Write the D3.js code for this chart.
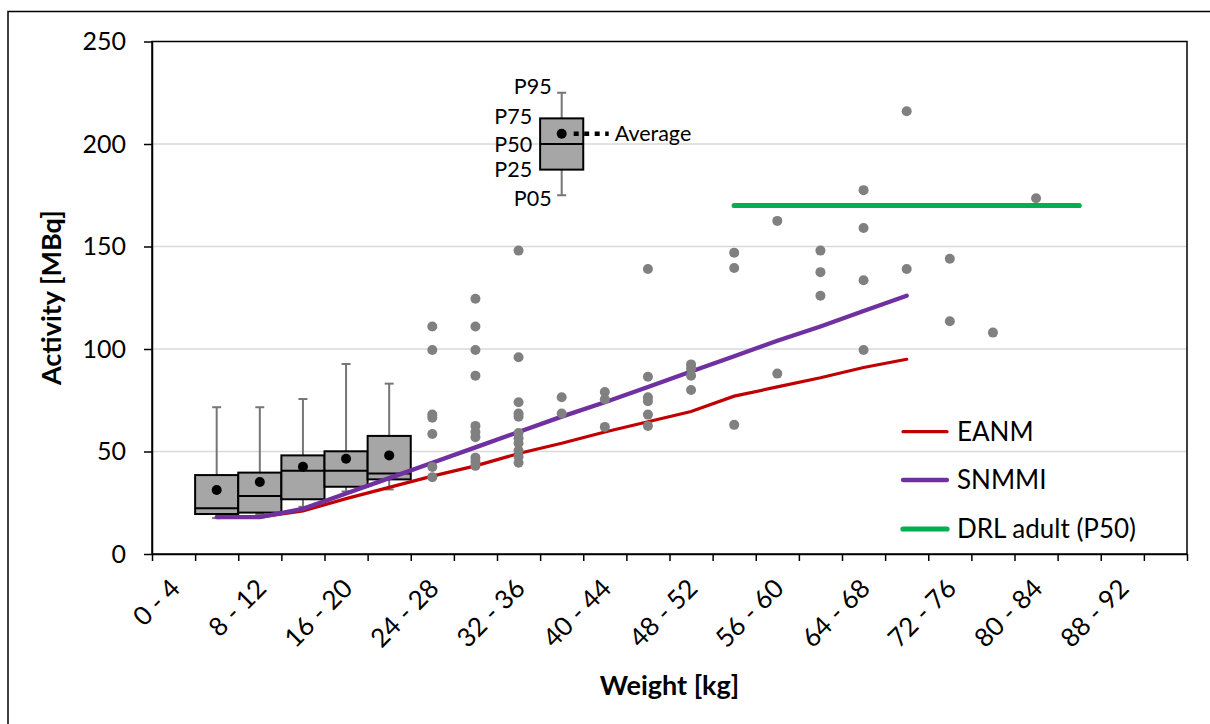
<!DOCTYPE html>
<html><head><meta charset="utf-8">
<script src="https://cdn.jsdelivr.net/npm/d3@7"></script>
<style>
body{margin:0;background:#fff;}
text{font-family:Lato, "Noto Sans", sans-serif;fill:#000;}
</style>
</head><body>
<svg id="chart" width="1210" height="724"></svg>
<script>
// ---------- DATA ----------
const categories = ["0 - 4","4 - 8","8 - 12","12 - 16","16 - 20","20 - 24","24 - 28","28 - 32",
  "32 - 36","36 - 40","40 - 44","44 - 48","48 - 52","52 - 56","56 - 60","60 - 64","64 - 68",
  "68 - 72","72 - 76","76 - 80","80 - 84","84 - 88","88 - 92","92 - 96"];
const tickLabels = ["0 - 4","8 - 12","16 - 20","24 - 28","32 - 36","40 - 44","48 - 52",
  "56 - 60","64 - 68","72 - 76","80 - 84","88 - 92"];
const yTicks = [0, 50, 100, 150, 200, 250];

// box plots (P05, P25, P50, P75, P95, average)
const boxCategories = ["4 - 8","8 - 12","12 - 16","16 - 20","20 - 24"];
const boxP05  = [17.5, 19.5, 23, 30.5, 31.5];
const boxP25  = [19.5, 20.2, 26.7, 32.8, 36.4];
const boxP50  = [22.3, 28.3, 40.6, 40.6, 39.3];
const boxP75  = [38.5, 39.7, 48.1, 50.1, 57.6];
const boxP95  = [71.6, 71.6, 75.6, 92.7, 83.1];
const boxMean = [31.2, 35.1, 42.6, 46.5, 48.1];

// explanatory box (key)
const keyCategory = "36 - 40";
const keyLabels = ["P05","P25","P50","P75","P95"];
const keyValues = [175, 187.5, 200, 212.5, 225];
const keyMean = 205;
const keyMeanLabel = "Average";

// individual patients
const scatterCategories = ["24 - 28","28 - 32","32 - 36","36 - 40","40 - 44","44 - 48","48 - 52",
  "52 - 56","56 - 60","60 - 64","64 - 68","68 - 72","72 - 76","76 - 80","80 - 84"];
const scatterValues = [
  [111, 99.5, 68, 66.5, 58.5, 42.5, 37.5],
  [124.5, 111, 99.5, 87, 62.5, 59.5, 57, 47, 45, 43],
  [148, 96, 74, 68.5, 67, 59, 56.5, 54, 50.5, 47.5, 44.5],
  [76.5, 68.5],
  [79, 75.5, 62],
  [139, 86.5, 76.5, 74.5, 68, 62.5],
  [92.5, 90.5, 87, 80],
  [147, 139.5, 63],
  [162.5, 88],
  [148, 137.5, 126],
  [177.5, 159, 133.5, 99.5],
  [216, 139],
  [144, 113.5],
  [108],
  [173.5]
];

// reference lines
const lineCategories = ["4 - 8","8 - 12","12 - 16","16 - 20","20 - 24","24 - 28","28 - 32",
  "32 - 36","36 - 40","40 - 44","44 - 48","48 - 52","52 - 56","56 - 60","60 - 64","64 - 68","68 - 72"];
const eanmValues  = [18, 18, 21, 27, 32.5, 38, 43, 49, 54, 59.5, 64.5, 69.5, 77, 81.5, 86, 91, 95];
const snmmiValues = [18, 18, 22, 29.5, 37, 44.5, 52, 59.5, 67, 74, 81.5, 89, 96.5, 104, 111, 118.5, 126];
const drlCategories = ["52 - 56","56 - 60","60 - 64","64 - 68","68 - 72","72 - 76","76 - 80","80 - 84","84 - 88"];
const drlValues = [170, 170, 170, 170, 170, 170, 170, 170, 170];

const legendNames = ["EANM", "SNMMI", "DRL adult (P50)"];
const legendColors = ["#c00000", "#7030a0", "#00b050"];
const legendWidths = [3.2, 4.3, 5.2];

// ---------- LAYOUT ----------
const svg = d3.select("#chart");
const L = 152, R = 1187, T = 41.5, B = 554;
const x = d3.scaleBand().domain(categories).range([L, R]).padding(0);
const xEdge = d3.scaleLinear().domain([0, categories.length]).range([L, R]);
const y = d3.scaleLinear().domain([0, 250]).range([B, T]);
const cx = c => x(c) + x.bandwidth() / 2;

// outer frame
svg.append("rect").attr("x", 8).attr("y", 11.5).attr("width", 1400).attr("height", 900)
  .attr("fill", "none").attr("stroke", "#000").attr("stroke-width", 1.5);

// gridlines
svg.append("g").selectAll("line").data(yTicks.filter(v => v > 0 && v < 250)).join("line")
  .attr("x1", L).attr("x2", R).attr("y1", d => y(d)).attr("y2", d => y(d))
  .attr("stroke", "#d9d9d9").attr("stroke-width", 1.5);

// box plots
function drawBox(g, cat, p05, p25, p50, p75, p95, mean) {
  const c = cx(cat), w = x.bandwidth();
  g.append("line").attr("x1", c).attr("x2", c).attr("y1", y(p95)).attr("y2", y(p05))
    .attr("stroke", "#767676").attr("stroke-width", 2);
  [p95, p05].forEach(v => g.append("line").attr("x1", c - 4.5).attr("x2", c + 4.5)
    .attr("y1", y(v)).attr("y2", y(v)).attr("stroke", "#767676").attr("stroke-width", 2));
  g.append("rect").attr("x", x(cat)).attr("width", w).attr("y", y(p75)).attr("height", y(p25) - y(p75))
    .attr("fill", "#a6a6a6").attr("stroke", "#000").attr("stroke-width", 2);
  g.append("line").attr("x1", x(cat)).attr("x2", x(cat) + w).attr("y1", y(p50)).attr("y2", y(p50))
    .attr("stroke", "#000").attr("stroke-width", 2);
  g.append("circle").attr("cx", c).attr("cy", y(mean)).attr("r", 5).attr("fill", "#000");
}
const gBox = svg.append("g");
boxCategories.forEach((c, i) => drawBox(gBox, c, boxP05[i], boxP25[i], boxP50[i], boxP75[i], boxP95[i], boxMean[i]));

// key box
const gKey = svg.append("g");
drawBox(gKey, keyCategory, ...keyValues, keyMean);
const kc = cx(keyCategory);
gKey.append("line").attr("x1", kc + 12).attr("x2", kc + 47).attr("y1", y(keyMean)).attr("y2", y(keyMean))
  .attr("stroke", "#000").attr("stroke-width", 4.5).attr("stroke-dasharray", "5,5.5");
gKey.append("text").attr("x", kc + 53).attr("y", y(keyMean)).attr("dy", "0.36em")
  .attr("font-size", 21.5).text(keyMeanLabel);
keyLabels.forEach((lab, i) => {
  const outer = (i === 0 || i === 4);
  const xEnd = outer ? kc - 10 : x(keyCategory) - 8;
  const off = i === 0 ? 3 : (i === 4 ? -6 : (i === 3 ? -2 : 0));
  gKey.append("text").attr("x", xEnd).attr("y", y(keyValues[i]) + off).attr("dy", "0.36em")
    .attr("text-anchor", "end").attr("font-size", 21.5).text(lab);
});

// reference lines
const line = d3.line().x(d => cx(d[0])).y(d => y(d[1]));
svg.append("path").datum(lineCategories.map((c, i) => [c, eanmValues[i]])).attr("d", line)
  .attr("fill", "none").attr("stroke", legendColors[0]).attr("stroke-width", legendWidths[0]).attr("stroke-linecap", "round");
svg.append("path").datum(lineCategories.map((c, i) => [c, snmmiValues[i]])).attr("d", line)
  .attr("fill", "none").attr("stroke", legendColors[1]).attr("stroke-width", legendWidths[1]).attr("stroke-linecap", "round");
svg.append("path").datum(drlCategories.map((c, i) => [c, drlValues[i]])).attr("d", line)
  .attr("fill", "none").attr("stroke", legendColors[2]).attr("stroke-width", legendWidths[2]).attr("stroke-linecap", "round");

// scatter
const pts = [];
scatterCategories.forEach((c, i) => scatterValues[i].forEach(v => pts.push([c, v])));
svg.append("g").selectAll("circle").data(pts).join("circle")
  .attr("cx", d => cx(d[0])).attr("cy", d => y(d[1])).attr("r", 5).attr("fill", "#808080");

// plot border
svg.append("rect").attr("x", L).attr("y", T).attr("width", R - L).attr("height", B - T)
  .attr("fill", "none").attr("stroke", "#000").attr("stroke-width", 1.5);

// y axis
const yAxis = svg.append("g").attr("transform", `translate(${L},0)`)
  .call(d3.axisLeft(y).tickValues(yTicks).tickSize(8).tickSizeOuter(0).tickPadding(18));
yAxis.select(".domain").attr("stroke-width", 1.5);
yAxis.selectAll(".tick line").attr("stroke-width", 1.5);
yAxis.selectAll("text").attr("font-size", 25).attr("font-family", "Lato");

// x axis ticks at category boundaries
const xTickAxis = svg.append("g").attr("transform", `translate(0,${B})`)
  .call(d3.axisBottom(xEdge).tickValues(d3.range(0, categories.length + 1)).tickSize(7).tickSizeOuter(0).tickFormat(""));
xTickAxis.select(".domain").attr("stroke-width", 1.5);
xTickAxis.selectAll(".tick line").attr("stroke-width", 1.5);

// x labels
const xLab = svg.append("g").attr("transform", `translate(0,${B})`)
  .call(d3.axisBottom(x).tickValues(tickLabels).tickSize(0).tickSizeOuter(0));
xLab.select(".domain").remove();
xLab.selectAll("text").attr("font-size", 26).attr("font-family", "Lato")
  .attr("text-anchor", "end").attr("dy", 0)
  .attr("transform", "translate(8,36) rotate(-45)").attr("y", 0).attr("x", 0);

// axis titles
svg.append("text").attr("x", (L + R) / 2).attr("y", 695).attr("text-anchor", "middle")
  .attr("font-size", 27).attr("font-weight", "bold").text("Weight [kg]");
svg.append("text").attr("transform", `translate(61,${(T + B) / 2}) rotate(-90)`).attr("text-anchor", "middle")
  .attr("font-size", 27).attr("font-weight", "bold").text("Activity [MBq]");

// legend
const lg = svg.append("g");
const legY = [431.7, 480, 529];
legendNames.forEach((n, i) => {
  lg.append("line").attr("x1", 903).attr("x2", 947).attr("y1", legY[i]).attr("y2", legY[i])
    .attr("stroke", legendColors[i]).attr("stroke-width", legendWidths[i]).attr("stroke-linecap", "round");
  lg.append("text").attr("x", 957).attr("y", legY[i]).attr("dy", "0.36em").attr("font-size", 26).text(n);
});
</script>
</body></html>
